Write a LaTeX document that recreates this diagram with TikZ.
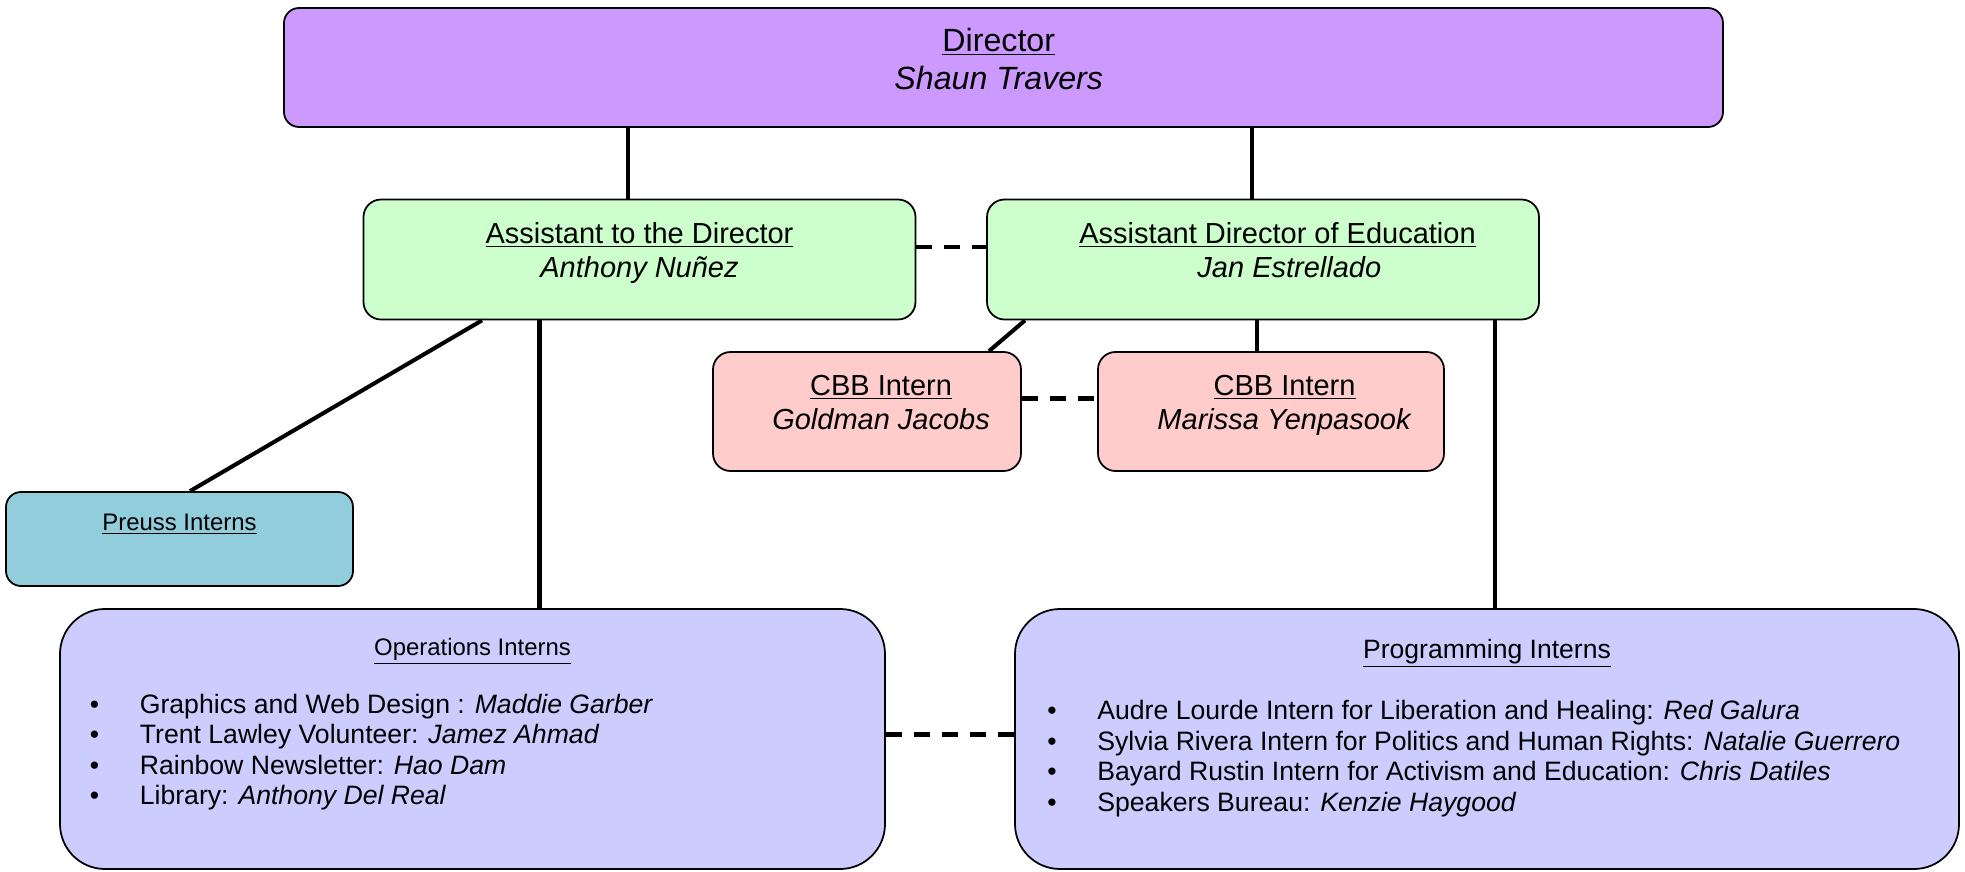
\documentclass[tikz,border=0pt]{standalone}
\usepackage{fontspec}
\setmainfont{Liberation Sans}
\usepackage{xcolor}
\usetikzlibrary{positioning, calc}

\definecolor{dirpurple}{HTML}{CC99FF}
\definecolor{asstgreen}{HTML}{CCFFCC}
\definecolor{cbbpink}{HTML}{FFCCCC}
\definecolor{preussblue}{HTML}{92CDDC}
\definecolor{internlav}{HTML}{CCCCFF}

\newcommand{\itembullet}{\makebox[28.4pt][l]{\textbullet}}

\begin{document}
\begin{tikzpicture}[
        block/.style={rectangle, draw, line width=1pt, align=center, text depth=10.5pt},
        head/.style={block, fill=dirpurple, rounded corners=0.3cm, text depth=9.5pt, minimum width=28.78cm, minimum height=2.38cm, font=\fontsize{18.3}{21.6}\selectfont},
        asst/.style={block, fill=asstgreen, rounded corners=0.35cm, minimum width=11.04cm, minimum height=2.4cm, font=\fontsize{16.5}{19.3}\selectfont},
        cbb/.style={block, fill=cbbpink, rounded corners=0.35cm, minimum height=2.38cm, font=\fontsize{16.5}{19.2}\selectfont},
        preuss/.style={block, fill=preussblue, rounded corners=0.3cm, text depth=19pt, minimum width=6.94cm, minimum height=1.88cm, font=\fontsize{13.6}{16}\selectfont},
        group/.style={rectangle, draw, line width=1pt, fill=internlav, rounded corners=0.9cm, minimum height=5.2cm},
        grouptitle/.style={inner sep=0pt},
        grouplist/.style={inner sep=0pt, align=left, font=\fontsize{15.15}{17.35}\selectfont},
        line/.style={draw, line width=2.3pt},
        dline/.style={line, dash pattern=on 0.32cm off 0.24cm}]

        \useasboundingbox (0,0) rectangle (39.3,-17.44);

        \node [head] (director) at (20.07,-1.35) {\hspace*{-5.4pt}\underline{Director}\\\hspace*{-5.4pt}\textit{Shaun Travers}};
        \node [asst] (assistant) at (12.79,-5.19) {\underline{Assistant to the Director}\\\textit{Anthony Nuñez}};
        \node [asst] (education) at (25.26,-5.19) {\hspace*{16.5pt}\underline{Assistant Director of Education}\\\hspace*{30pt}\textit{Jan Estrellado}};
        \node [cbb, minimum width=6.16cm] (cbbjacobs) at (17.34,-8.23) {\hspace*{16pt}\underline{CBB Intern}\\\hspace*{16pt}\textit{Goldman Jacobs}};
        \node [cbb, minimum width=6.92cm] (cbbyenpasook) at (25.42,-8.23) {\hspace*{15.5pt}\underline{CBB Intern}\\\hspace*{15.5pt}\textit{Marissa Yenpasook}};
        \node [preuss] (preussint) at (3.59,-10.78) {\underline{Preuss Interns}};

        \node [group, minimum width=16.5cm] (operations) at (9.45,-14.78) {};
        \node [group, minimum width=18.88cm] (programming) at (29.74,-14.78) {};

        \node [grouptitle, font=\fontsize{13.6}{16}\selectfont] (opstitle) at ([yshift=-0.86cm]operations.north) {\underline{Operations Interns}};
        \node [grouptitle, font=\fontsize{15.1}{17.5}\selectfont] (progtitle) at ([yshift=-0.9cm]programming.north) {\underline{Programming Interns}};

        \node [grouplist, anchor=north west] (opslist) at ([xshift=0.61cm, yshift=-1.71cm]operations.north west) {
            \itembullet Graphics and Web Design : \textit{Maddie Garber}\\
            \itembullet Trent Lawley Volunteer: \textit{Jamez Ahmad}\\
            \itembullet Rainbow Newsletter: \textit{Hao Dam}\\
            \itembullet Library: \textit{Anthony Del Real}
        };
        \node [grouplist, anchor=north west] (proglist) at ([xshift=0.66cm, yshift=-1.84cm]programming.north west) {
            \itembullet Audre Lourde Intern for Liberation and Healing: \textit{Red Galura}\\
            \itembullet Sylvia Rivera Intern for Politics and Human Rights: \textit{Natalie Guerrero}\\
            \itembullet Bayard Rustin Intern for Activism and Education: \textit{Chris Datiles}\\
            \itembullet Speakers Bureau: \textit{Kenzie Haygood}
        };

        % Paths
        \coordinate (dirtoasst) at ([xshift=-0.23cm]assistant.north);
        \coordinate (dirtoedu) at ([xshift=-0.22cm]education.north);
        \coordinate (assttoops) at ([xshift=-2cm]assistant.south);
        \coordinate (edutocbb) at ([xshift=-0.12cm]education.south);
        \coordinate (edutoprog) at ([xshift=4.64cm]education.south);
        \path [line] (dirtoasst |- director.south) -- (dirtoasst);
        \path [line] (dirtoedu |- director.south) -- (dirtoedu);
        \path [line] (assttoops) -- (assttoops |- operations.north);
        \path [line] (edutocbb) -- (edutocbb |- cbbyenpasook.north);
        \path [line] (edutoprog) -- (edutoprog |- programming.north);
        \path [line] ([xshift=-3.15cm]assistant.south) -- ([xshift=0.21cm]preussint.north);
        \path [line] ([xshift=-4.76cm]education.south) -- ([xshift=2.44cm]cbbjacobs.north);

        % Dashed links
        \coordinate (asstedu) at ([yshift=0.25cm]assistant.east);
        \coordinate (cbbcbb) at ([yshift=0.26cm]cbbjacobs.east);
        \coordinate (opsprog) at ([yshift=0.09cm]operations.east);
        \path [dline] (asstedu) -- (asstedu -| education.west);
        \path [dline] (cbbcbb) -- (cbbcbb -| cbbyenpasook.west);
        \path [dline] (opsprog) -- (opsprog -| programming.west);

\end{tikzpicture}
\end{document}
